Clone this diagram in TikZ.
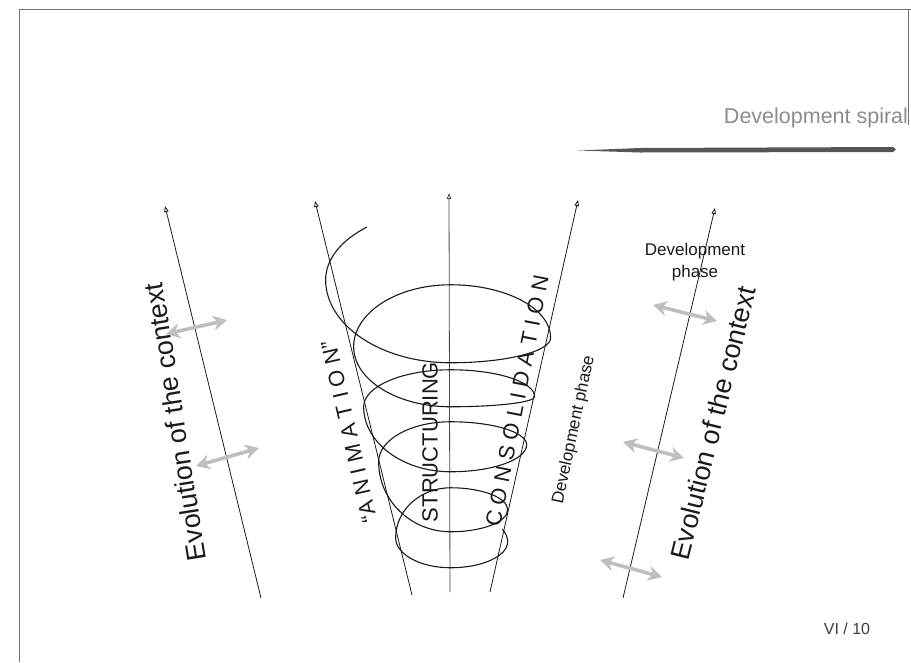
\documentclass[tikz,border=0pt]{standalone}
\usepackage{fontspec}
\setmainfont{Liberation Sans}
\usetikzlibrary{arrows.meta}
\definecolor{Ink}{HTML}{1A1A1A}
\definecolor{Frame}{HTML}{707070}
\definecolor{Title}{HTML}{8C8C8C}
\definecolor{Shade}{HTML}{BEBEBE}
\definecolor{Bar}{HTML}{555555}
\tikzset{
  axis/.style={-{Triangle[open,length=6pt,width=4.5pt]}, line width=0.8pt, draw=Ink},
  coil/.style={line width=1.1pt, draw=Ink},
  shift arrow/.style={{Stealth[length=14pt,width=15pt]}-{Stealth[length=14pt,width=15pt]}, line width=3.6pt, draw=Shade},
  context/.style={font=\fontsize{27}{32}\selectfont, text=Ink, inner sep=0pt},
  stage/.style={font=\fontsize{22}{26}\selectfont, text=Ink, inner sep=0pt},
  phase/.style={font=\fontsize{17}{22}\selectfont, text=Ink, inner sep=0pt, align=center}
}
\begin{document}
\begin{tikzpicture}[x=1pt, y=-1pt]
  \useasboundingbox (0,0) rectangle (911,662);
  % page frame
  \draw[Frame, line width=0.8pt] (19,662) -- (19,9) -- (911,9);
  \draw[Frame, line width=0.6pt] (908,9) -- (908,125);

  % title and bar
  \node[font=\fontsize{21.5}{25}\selectfont, text=Title, anchor=base] (title) at (816,123) {Development spiral};
  \fill[Bar] (578,150.5) -- (640,148) -- (893,147) -- (896,149.5) -- (893,152) -- (640,152.5) -- cycle;

  % axes
  \coordinate (ctxLlow) at (261,598);
  \coordinate (ctxLtop) at (165,206);
  \coordinate (coneLlow) at (412,595);
  \coordinate (coneLtop) at (315,201);
  \coordinate (midlow) at (450,592);
  \coordinate (midtop) at (449,193);
  \coordinate (coneRlow) at (490,592);
  \coordinate (coneRtop) at (578,200);
  \coordinate (ctxRlow) at (623,598);
  \coordinate (ctxRtop) at (715,208);
  \draw[axis] (ctxLlow) -- (ctxLtop);
  \draw[axis] (coneLlow) -- (coneLtop);
  \draw[axis, draw=Ink!80] (midlow) -- (midtop);
  \draw[axis] (coneRlow) -- (coneRtop);
  \draw[axis] (ctxRlow) -- (ctxRtop);

  % the spiral
  \draw[coil] (367,227)
    arc[start angle=228, end angle=180, x radius=125, y radius=71]
    arc[start angle=180, end angle=90, x radius=125, y radius=83]
    arc[start angle=90, end angle=0, x radius=100, y radius=25]
    arc[start angle=0, end angle=-90, x radius=100, y radius=53]
    arc[start angle=-90, end angle=-180, x radius=97, y radius=62]
    arc[start angle=180, end angle=90, x radius=97, y radius=60]
    arc[start angle=90, end angle=0, x radius=84, y radius=10]
    arc[start angle=0, end angle=-90, x radius=84, y radius=27]
    arc[start angle=-90, end angle=-180, x radius=87, y radius=37]
    arc[start angle=180, end angle=90, x radius=87, y radius=65]
    arc[start angle=90, end angle=0, x radius=76, y radius=27]
    arc[start angle=0, end angle=-90, x radius=76, y radius=23]
    arc[start angle=-90, end angle=-180, x radius=72, y radius=40]
    arc[start angle=180, end angle=90, x radius=72, y radius=70]
    arc[start angle=90, end angle=0, x radius=57, y radius=22]
    arc[start angle=0, end angle=-90, x radius=57, y radius=22]
    arc[start angle=-90, end angle=-180, x radius=55, y radius=50]
    arc[start angle=180, end angle=90, x radius=55, y radius=30]
    arc[start angle=90, end angle=0, x radius=57, y radius=26]
    arc[start angle=0, end angle=-25, x radius=57, y radius=30];

  % stage labels
  \node[stage, rotate=103] (anim) at (349,432) {``A N I M A T I O N''};
  \node[stage, rotate=90] (struct) at (430,442) {STRUCTURING};
  \node[stage, rotate=79] (consol) at (517,401) {C O N S O L I D A T I O N};
  \node[phase, rotate=78] (phaseA) at (574,430) {Development phase};
  \node[phase] (phaseB) at (695,262) {Development\\phase};

  % context
  \node[context, rotate=99] (ctxL) at (175,422) {Evolution of the context};
  \node[context, rotate=76] (ctxR) at (713,423) {Evolution of the context};

  % shifting arrows
  \coordinate (s1a) at (166,334);
  \coordinate (s1b) at (227,320);
  \coordinate (s2a) at (196,466);
  \coordinate (s2b) at (259,448);
  \coordinate (s3a) at (653,305);
  \coordinate (s3b) at (717,321);
  \coordinate (s4a) at (623,442);
  \coordinate (s4b) at (684,458);
  \coordinate (s5a) at (600,560);
  \coordinate (s5b) at (662,577);
  \draw[shift arrow] (s1a) -- (s1b);
  \draw[shift arrow] (s2a) -- (s2b);
  \draw[shift arrow] (s3a) -- (s3b);
  \draw[shift arrow] (s4a) -- (s4b);
  \draw[shift arrow] (s5a) -- (s5b);

  \node[font=\fontsize{16}{20}\selectfont, text=Ink!85] (page) at (847,629) {VI / 10};
\end{tikzpicture}
\end{document}
